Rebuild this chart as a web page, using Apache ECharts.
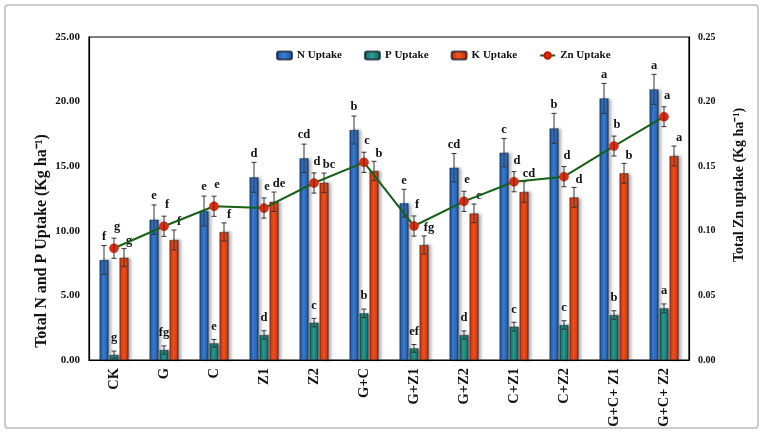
<!DOCTYPE html>
<html><head><meta charset="utf-8">
<script src="https://cdn.jsdelivr.net/npm/echarts@6/dist/echarts.min.js"></script>
<style>html,body{margin:0;padding:0;background:#fff}#c{width:766px;height:436px}</style>
</head><body><div id="c"></div>
<script>
const categories = ['CK','G','C','Z1','Z2','G+C','G+Z1','G+Z2','C+Z1','C+Z2','G+C+ Z1','G+C+ Z2'];
const nUptake = [7.74,10.86,11.53,14.14,15.61,17.80,12.13,14.88,16.05,17.93,20.25,20.95];
const nErr = [1.12,1.14,1.16,1.16,1.10,1.08,1.08,1.10,1.10,1.16,1.16,1.16];
const nLetters = ['f','e','e','d','cd','b','e','cd','c','b','a','a'];
const pUptake = [0.39,0.77,1.29,1.93,2.89,3.61,0.90,1.93,2.58,2.71,3.48,4.00];
const pErr = [0.30,0.32,0.30,0.33,0.33,0.33,0.30,0.32,0.34,0.33,0.33,0.34];
const pLetters = ['g','fg','e','d','c','b','ef','d','c','c','b','a'];
const kUptake = [7.92,9.29,9.91,12.25,13.72,14.63,8.90,11.35,13.00,12.59,14.45,15.79];
const kErr = [0.70,0.77,0.70,0.75,0.75,0.75,0.70,0.72,0.80,0.77,0.77,0.77];
const kLetters = ['g','f','f','de','bc','b','fg','e','cd','d','b','a'];
const znUptake = [0.0865,0.1035,0.119,0.1176,0.137,0.153,0.1037,0.1228,0.138,0.1419,0.1656,0.1883];
const znErr = [0.0078,0.0078,0.0078,0.0078,0.0078,0.0078,0.0078,0.0078,0.0078,0.0078,0.0077,0.0077];
const znLetters = ['g','f','e','e','d','c','f','e','d','d','b','a'];
const seriesNames = ['N Uptake','P Uptake','K Uptake','Zn Uptake'];

const FONT = '"Liberation Serif","Times New Roman",serif';
const G = echarts.graphic;
function grad(c0, c1, c2, c3) {
  return new G.LinearGradient(0,0,1,0,[
    {offset:0,color:c0},{offset:0.18,color:c1},{offset:0.45,color:c2},{offset:0.8,color:c1},{offset:1,color:c3}]);
}
const nColor = grad('#143a72','#2563b4','#3b7fd2','#143a72');
const pColor = grad('#0b4f49','#167a70','#2f9c90','#0b4f49');
const kColor = grad('#a82200','#dc3a0c','#ef5522','#9a1f00');

function barSeries(name, data, color) {
  return {
    name, type:'bar', data, barWidth:9, barGap:'11%', z:2,
    itemStyle:{color, borderColor:'rgba(10,20,40,0.7)', borderWidth:0.6,
      shadowColor:'rgba(0,0,0,0.35)', shadowBlur:3, shadowOffsetX:3, shadowOffsetY:0}
  };
}
function errSeries(vals, errs, letters, dx, yAxisIndex, letterGap, letterDx, z) {
  return {
    type:'custom', yAxisIndex, z, silent:true,
    data: vals.map((v,i)=>[i, v, errs[i]]),
    renderItem(params, api) {
      const i = api.value(0), v = api.value(1), e = api.value(2);
      const top = api.coord([i, v + e]);
      const bot = api.coord([i, v - e]);
      const x = top[0] + dx;
      const cap = 2.5;
      const st = {stroke:'#333', lineWidth:1};
      return {type:'group', children:[
        {type:'line', shape:{x1:x,y1:top[1],x2:x,y2:bot[1]}, style:st},
        {type:'line', shape:{x1:x-cap,y1:top[1],x2:x+cap,y2:top[1]}, style:st},
        {type:'line', shape:{x1:x-cap,y1:bot[1],x2:x+cap,y2:bot[1]}, style:st},
        {type:'text', x:x+letterDx, y:top[1]-letterGap,
          style:{text:letters[params.dataIndex], fill:'#111', fontFamily:FONT, fontWeight:'bold', fontSize:12.5,
            align:'center', verticalAlign:'middle'}}
      ]};
    }
  };
}

const chart = echarts.init(document.getElementById('c'));
chart.setOption({
  animation:false,
  backgroundColor:'#fff',
  grid:{left:89, right:77, top:37, bottom:76, show:true, borderColor:'#000', borderWidth:1.2, backgroundColor:'transparent'},
  legend:{
    data:seriesNames, left:271, top:45, itemWidth:15, itemHeight:8, itemGap:22,
    textStyle:{fontFamily:FONT, fontWeight:'bold', fontSize:11, color:'#111'}
  },
  xAxis:{
    type:'category', data:categories,
    axisLine:{lineStyle:{color:'#000', width:1.2}}, axisTick:{show:false},
    axisLabel:{rotate:90, margin:8, color:'#111', fontFamily:FONT, fontWeight:'bold', fontSize:14.5, interval:0}
  },
  yAxis:[
    {type:'value', min:0, max:25, interval:5, splitLine:{show:false},
      axisLine:{show:true, lineStyle:{color:'#000', width:1.2}}, axisTick:{show:false},
      axisLabel:{formatter:v=>v.toFixed(2), color:'#111', fontFamily:FONT, fontWeight:'bold', fontSize:11, margin:9}},
    {type:'value', min:0, max:0.25, interval:0.05, splitLine:{show:false},
      axisLine:{show:true, lineStyle:{color:'#000', width:1.2}}, axisTick:{show:false},
      axisLabel:{formatter:v=>v.toFixed(2), color:'#111', fontFamily:FONT, fontWeight:'bold', fontSize:10, margin:9}}
  ],
  graphic:[
    {type:'rect', shape:{x:5, y:5, width:753, height:423, r:3}, style:{fill:'none', stroke:'#bdbdbd', lineWidth:1.5}, silent:true},
    {type:'text', x:42, y:241, rotation:Math.PI/2,
      style:{text:'Total N and P Uptake (Kg ha⁻¹)', fill:'#111', fontFamily:FONT, fontWeight:'bold', fontSize:16, align:'center', verticalAlign:'middle'}},
    {type:'text', x:739, y:185, rotation:Math.PI/2,
      style:{text:'Total Zn uptake (Kg ha⁻¹)', fill:'#111', fontFamily:FONT, fontWeight:'bold', fontSize:14, align:'center', verticalAlign:'middle'}}
  ],
  series:[
    barSeries('N Uptake', nUptake, nColor),
    barSeries('P Uptake', pUptake, pColor),
    barSeries('K Uptake', kUptake, kColor),
    {name:'Zn Uptake', type:'line', yAxisIndex:1, data:znUptake, z:6,
      lineStyle:{color:'#176017', width:2}, itemStyle:{color:'#e62a0c', borderColor:'#c01800', borderWidth:0.5},
      symbol:'circle', symbolSize:9, showSymbol:true},
    errSeries(nUptake, nErr, nLetters, -10, 0, 9, 0, 4),
    errSeries(pUptake, pErr, pLetters, 0, 0, 13, 0, 4),
    errSeries(kUptake, kErr, kLetters, 10, 0, 8, 5, 4),
    errSeries(znUptake, znErr, znLetters, 0, 1, 11, 3, 7)
  ]
});
</script></body></html>
